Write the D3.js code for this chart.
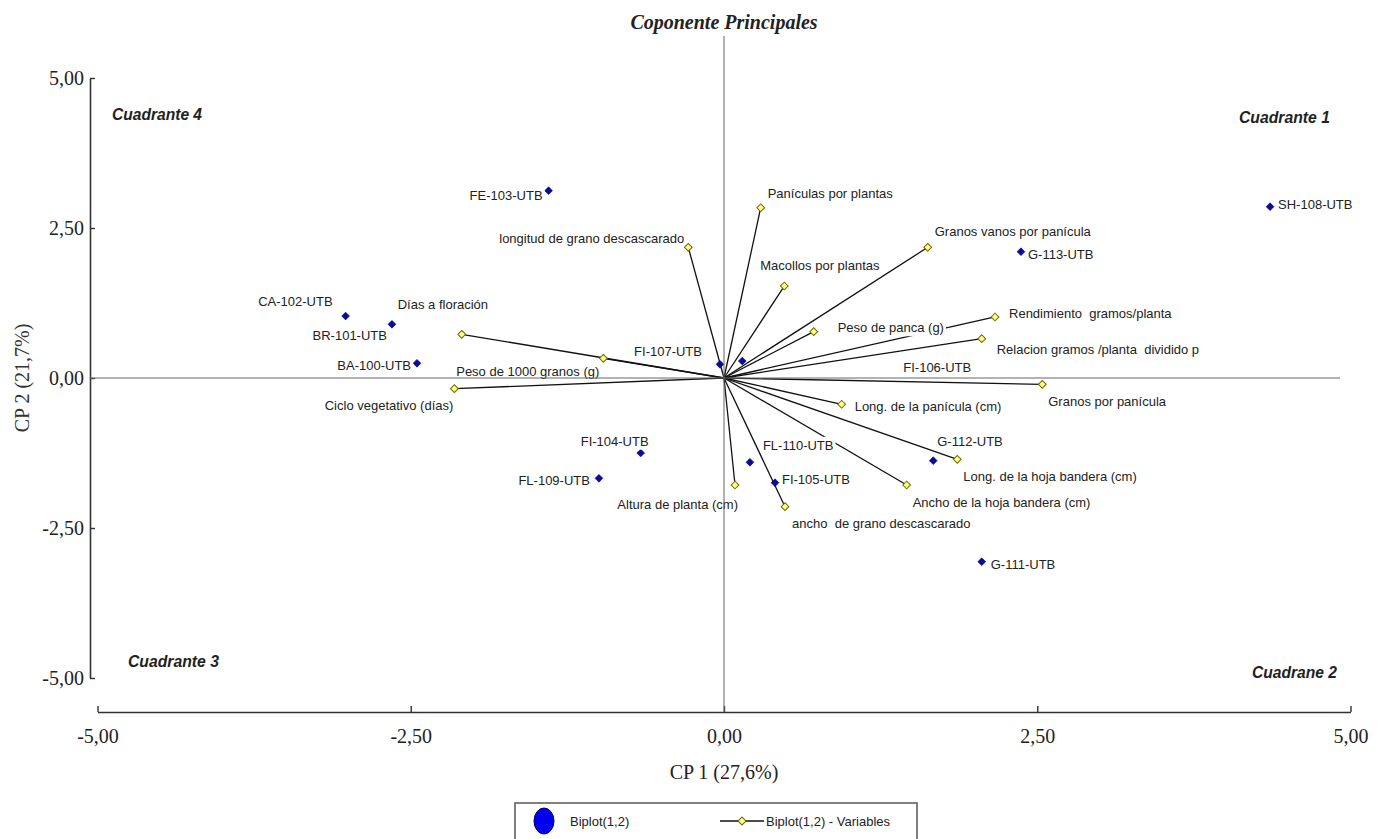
<!DOCTYPE html>
<html><head><meta charset="utf-8">
<script src="https://cdn.jsdelivr.net/npm/d3@7"></script>
<style>body{margin:0;background:#fff} svg{display:block} text{white-space:pre}</style>
</head><body><svg id="c" width="1386" height="839"></svg>
<script>
// ---- data ----
const genotypes = ["BA-100-UTB","BR-101-UTB","CA-102-UTB","FE-103-UTB","FI-104-UTB","FI-105-UTB","FI-106-UTB","FI-107-UTB","SH-108-UTB","FL-109-UTB","FL-110-UTB","G-111-UTB","G-112-UTB","G-113-UTB"];
const genoCP1 = [-2.45,-2.65,-3.02,-1.40,-0.665,0.407,0.146,-0.032,4.358,-0.998,0.207,2.057,1.670,2.370];
const genoCP2 = [0.245,0.895,1.033,3.122,-1.25,-1.745,0.283,0.228,2.855,-1.672,-1.405,-3.062,-1.378,2.105];

const variables = ["Panículas por plantas","Granos vanos por panícula","Macollos por plantas","Peso de panca (g)","Rendimiento  gramos/planta","Relacion gramos /planta  dividido p","Granos por panícula","longitud de grano descascarado","Días a floración","Peso de 1000 granos (g)","Ciclo vegetativo (días)","Long. de la panícula (cm)","Altura de planta (cm)","ancho  de grano descascarado","Ancho de la hoja bandera (cm)","Long. de la hoja bandera (cm)"];
const varCP1 = [0.293,1.626,0.481,0.716,2.163,2.057,2.540,-0.285,-2.093,-0.963,-2.152,0.939,0.088,0.487,1.458,1.862];
const varCP2 = [2.838,2.178,1.533,0.772,1.017,0.655,-0.105,2.178,0.728,0.328,-0.178,-0.438,-1.783,-2.145,-1.783,-1.355];

const tickValues = [-5,-2.5,0,2.5,5];
const quadrantNames = ["Cuadrante 4","Cuadrante 1","Cuadrante 3","Cuadrane 2"];
const quadrantCP1 = [-4.884,4.836,-4.757,4.892];
const quadrantCP2 = [4.4,4.35,-4.71,-4.9];
const titleText = "Coponente Principales";
const xTitle = "CP 1 (27,6%)";
const yTitle = "CP 2 (21,7%)";
const legendLabels = ["Biplot(1,2)","Biplot(1,2) - Variables"];

// ---- label layout (anchor, dx, dy in px) ----
const genoLabelLayout = [["end",-6,2],["end",-5,11],["end",-13,-15],["end",-6,5],["middle",-26,-12],["start",7,-3],["start",161,6],["end",-18,-13],["start",8,-2],["end",-9,2],["start",13,-17],["start",9,3],["start",4,-19],["start",7,3]];
const varLabelLayout = [["start",7,-14],["start",7,-16],["start",-24,-21],["start",24,-4],["start",14,-4],["start",15,11],["start",6,17],["end",-4,-9],["start",-64,-30],["end",-4,13],["end",-1,17],["start",13,2],["end",3,19],["start",7,17],["start",6,17],["start",6,17]];
const quadAnchor = ["start","end","start","end"];
const quadLen = [90,91,91,85];

// ---- build ----
const svg = d3.select("#c");
const x = d3.scaleLinear().domain([-5,5]).range([97.5,1350.5]);
const y = d3.scaleLinear().domain([-5,5]).range([678,78]);
const loc = d3.formatLocale({decimal:",",thousands:".",grouping:[3],currency:["",""],minus:"-"});
const fmt = loc.format(".2f");
const SANS = "'Liberation Sans', Arial, sans-serif";
const SERIF = "'Liberation Serif', 'Times New Roman', serif";

const geno = genotypes.map((n,i)=>({name:n,x:genoCP1[i],y:genoCP2[i],lay:genoLabelLayout[i]}));
const vars = variables.map((n,i)=>({name:n,x:varCP1[i],y:varCP2[i],lay:varLabelLayout[i]}));

// title
svg.append("text").attr("x",x(0)).attr("y",29).attr("text-anchor","middle")
  .attr("font-family",SERIF).attr("font-size",20).attr("font-weight","bold").attr("font-style","italic")
  .attr("fill","#222").text(titleText);

// axes
const yAxis = svg.append("g").attr("transform","translate(90,0)")
  .call(d3.axisLeft(y).tickValues(tickValues).tickFormat(fmt).tickSizeInner(-5).tickSizeOuter(0).tickPadding(6));
const xAxis = svg.append("g").attr("transform","translate(0,712)")
  .call(d3.axisBottom(x).tickValues(tickValues).tickFormat(fmt).tickSizeInner(-6).tickSizeOuter(0).tickPadding(17));
[yAxis,xAxis].forEach(g=>{
  g.select(".domain").attr("stroke","#333").attr("stroke-width",1.6);
  g.selectAll(".tick line").attr("stroke","#333").attr("stroke-width",1.4);
  g.selectAll(".tick text").attr("font-family",SERIF).attr("font-size",20).attr("fill","#222");
});

svg.append("text").attr("x",x(0)).attr("y",779).attr("text-anchor","middle")
  .attr("font-family",SERIF).attr("font-size",20).attr("fill","#222").text(xTitle);
svg.append("text").attr("transform","translate(29,"+y(0)+") rotate(-90)").attr("text-anchor","middle")
  .attr("font-family",SERIF).attr("font-size",20).attr("fill","#333").text(yTitle);

// quadrant labels
svg.append("g").selectAll("text").data(quadrantNames).join("text")
  .attr("x",(d,i)=>x(quadrantCP1[i])).attr("y",(d,i)=>y(quadrantCP2[i])).attr("dy","0.35em")
  .attr("text-anchor",(d,i)=>quadAnchor[i])
  .attr("font-family",SANS).attr("font-size",17).attr("font-weight","bold").attr("font-style","italic")
  .attr("textLength",(d,i)=>quadLen[i]).attr("lengthAdjust","spacingAndGlyphs")
  .attr("fill","#222").text(d=>d);

// vectors
svg.append("g").selectAll("line").data(vars).join("line")
  .attr("x1",x(0)).attr("y1",y(0)).attr("x2",d=>x(d.x)).attr("y2",d=>y(d.y))
  .attr("stroke","#111").attr("stroke-width",1.3);

const square = d3.symbol().type(d3.symbolSquare);
// genotype markers (square rotated 45° = diamond)
svg.append("g").selectAll("path").data(geno).join("path")
  .attr("d",square.size(30)()).attr("transform",d=>`translate(${x(d.x)},${y(d.y)}) rotate(45)`)
  .attr("fill","#0a0a9c").attr("stroke","#000060").attr("stroke-width",0.6);

// labels with white background
function labels(data){
  const g = svg.append("g");
  const items = g.selectAll("g").data(data).join("g");
  const t = items.append("text")
    .attr("x",d=>x(d.x)+d.lay[1]).attr("y",d=>y(d.y)+d.lay[2]).attr("dy","0.35em")
    .attr("text-anchor",d=>d.lay[0])
    .attr("font-family",SANS).attr("font-size",13).attr("fill","#222").text(d=>d.name);
  t.each(function(){
    const b = this.getBBox();
    d3.select(this.parentNode).insert("rect","text")
      .attr("x",b.x-2).attr("y",b.y-1).attr("width",b.width+4).attr("height",b.height+2).attr("fill","#fff");
  });
}
labels(geno);
labels(vars);

// variable markers
svg.append("g").selectAll("path").data(vars).join("path")
  .attr("d",square.size(30)()).attr("transform",d=>`translate(${x(d.x)},${y(d.y)}) rotate(45)`)
  .attr("fill","#ffff88").attr("stroke","#6b6b00").attr("stroke-width",1);

// zero lines
svg.append("line").attr("x1",x(0)).attr("x2",x(0)).attr("y1",36).attr("y2",712)
  .attr("stroke","#666").attr("stroke-width",1);
svg.append("line").attr("x1",90).attr("x2",1340).attr("y1",y(0)).attr("y2",y(0))
  .attr("stroke","#666").attr("stroke-width",1);

// legend
const lg = svg.append("g");
lg.append("rect").attr("x",515).attr("y",803).attr("width",402).attr("height",50)
  .attr("fill","#fff").attr("stroke","#555").attr("stroke-width",1.5);
lg.append("ellipse").attr("cx",544).attr("cy",821).attr("rx",10).attr("ry",13)
  .attr("fill","#0000ee").attr("stroke","#000070");
lg.append("text").attr("x",570).attr("y",821).attr("dy","0.35em").attr("font-family",SANS).attr("font-size",13)
  .attr("fill","#222").text(legendLabels[0]);
lg.append("line").attr("x1",720).attr("x2",764).attr("y1",821).attr("y2",821).attr("stroke","#111").attr("stroke-width",1.3);
lg.append("path").attr("d",square.size(32)()).attr("transform","translate(742,821) rotate(45)")
  .attr("fill","#ffff88").attr("stroke","#6b6b00");
lg.append("text").attr("x",766).attr("y",821).attr("dy","0.35em").attr("font-family",SANS).attr("font-size",13)
  .attr("fill","#222").text(legendLabels[1]);
</script></body></html>
